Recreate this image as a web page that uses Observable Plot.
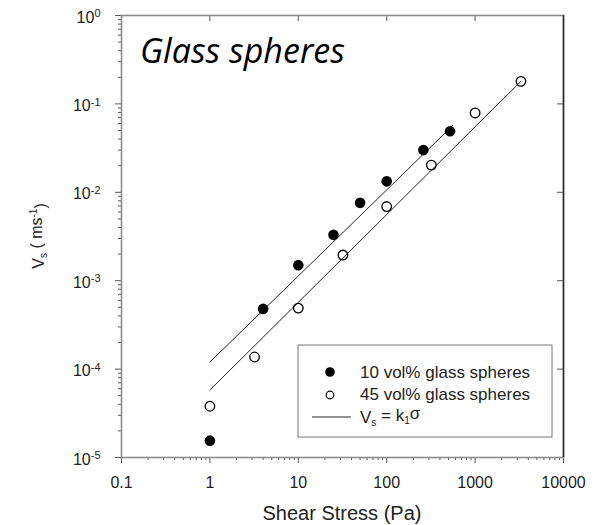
<!DOCTYPE html>
<html>
<head>
<meta charset="utf-8">
<script src="https://cdn.jsdelivr.net/npm/d3@7"></script>
<script src="https://cdn.jsdelivr.net/npm/@observablehq/plot@0.6"></script>
<style>
  body { margin: 0; background: #fff; }
  #chart { position: relative; width: 596px; height: 525px; }
</style>
</head>
<body>
<div id="chart"></div>
<script>
// Settling velocity vs applied shear stress, glass-sphere suspensions
const stress10 = [1, 4, 10, 25, 50, 100, 260, 520];
const vel10 = [1.55e-5, 4.8e-4, 1.5e-3, 3.3e-3, 7.6e-3, 1.33e-2, 0.030, 0.049];
const stress45 = [1, 3.2, 10, 32, 100, 320, 1000, 3300];
const vel45 = [3.8e-5, 1.37e-4, 4.9e-4, 1.95e-3, 6.9e-3, 0.0203, 0.079, 0.18];

// Linear fits Vs = k1·σ (end points of each fitted segment)
const fit10Stress = [1, 560];
const fit10Vel = [1.2e-4, 0.057];
const fit45Stress = [1, 3300];
const fit45Vel = [5.8e-5, 0.18];

const xTicks = [0.1, 1, 10, 100, 1000, 10000];
const xTickLabels = ["0.1", "1", "10", "100", "1000", "10000"];
const yTicks = [1e-5, 1e-4, 1e-3, 1e-2, 1e-1, 1];
const yExponents = ["-5", "-4", "-3", "-2", "-1", "0"];

const title = "Glass spheres";
const xLabel = "Shear Stress (Pa)";
const seriesLabels = ["10 vol% glass spheres", "45 vol% glass spheres"];

const toPoints = (xs, ys) => xs.map((x, i) => ({x, y: ys[i]}));
const pts10 = toPoints(stress10, vel10);
const pts45 = toPoints(stress45, vel45);
const line10 = toPoints(fit10Stress, fit10Vel);
const line45 = toPoints(fit45Stress, fit45Vel);

// minor ticks at 2..9 within each decade
const minors = (ticks) => ticks.slice(0, -1).flatMap(t => d3.range(2, 10).map(k => t * k));
const xMinor = minors(xTicks);
const yMinor = minors(yTicks);

const W = 596, H = 525, mL = 121, mR = 33, mT = 15, mB = 68;
const innerW = W - mL - mR, innerH = H - mT - mB;
const font = "'Liberation Sans', Arial, sans-serif";
const tickColor = "#555";
const textColor = "#222";

const chart = Plot.plot({
  width: W, height: H,
  marginLeft: mL, marginRight: mR, marginTop: mT, marginBottom: mB,
  style: {fontFamily: font, fontSize: "16px", color: textColor, background: "#fff", overflow: "visible"},
  x: {type: "log", domain: [0.1, 10000]},
  y: {type: "log", domain: [1e-5, 1]},
  marks: [
    // outward ticks, bottom and left
    Plot.axisX(xMinor, {anchor: "bottom", tickSize: 3, tickFormat: () => "", label: null, stroke: tickColor}),
    Plot.axisX(xTicks, {anchor: "bottom", tickSize: 6, tickPadding: 13, label: null, stroke: tickColor,
      tickFormat: d => xTickLabels[xTicks.indexOf(d)], fill: textColor, fontSize: 16}),
    Plot.axisY(yMinor, {anchor: "left", tickSize: 3, tickFormat: () => "", label: null, stroke: tickColor}),
    Plot.axisY(yTicks, {anchor: "left", tickSize: 6, tickFormat: () => "", label: null, stroke: tickColor}),
    // inward ticks, top and right
    Plot.tickX(xTicks.slice(1, -1), {x: d => d, insetBottom: innerH - 6, stroke: tickColor}),
    Plot.tickY(yTicks.slice(1, -1), {y: d => d, insetLeft: innerW - 6, stroke: tickColor}),
    Plot.frame({stroke: "#8c8c8c", strokeWidth: 1.6}),
    Plot.ruleX([10000], {stroke: "#333", strokeWidth: 1.6}),
    // power-of-ten labels on the y axis
    Plot.text(yTicks, {y: d => d, frameAnchor: "left", dx: -21, dy: 2, textAnchor: "end",
      text: (d, i) => yExponents[i], fill: textColor, fontSize: 16}),
    // fitted lines
    Plot.line(line10, {x: "x", y: "y", stroke: "#222", strokeWidth: 1}),
    Plot.line(line45, {x: "x", y: "y", stroke: "#222", strokeWidth: 1}),
    // measurements
    Plot.dot(pts10, {x: "x", y: "y", r: 5.3, fill: "#000"}),
    Plot.dot(pts45, {x: "x", y: "y", r: 4.8, fill: "none", stroke: "#000", strokeWidth: 1.3})
  ]
});

const svg = d3.select(chart);

// render "10" with a raised exponent
svg.selectAll("g[aria-label='text'] text").each(function () {
  const t = d3.select(this);
  const e = t.text();
  t.text("");
  t.append("tspan").text("10");
  t.append("tspan").attr("dy", "-0.5em").attr("font-size", 11).text(e);
});

// title
svg.append("text")
  .attr("x", 140).attr("y", 63)
  .attr("text-anchor", "start")
  .attr("font-family", "'Open Sans', sans-serif")
  .attr("font-style", "italic")
  .attr("font-size", 34)
  .attr("fill", "#000")
  .text(title);

// x label
svg.append("text")
  .attr("x", 342).attr("y", 520)
  .attr("text-anchor", "middle")
  .attr("font-family", font).attr("font-size", 20).attr("fill", textColor)
  .text(xLabel);

// y label: Vs ( ms-1 )
const yl = svg.append("text")
  .attr("transform", `translate(44,${mT + innerH / 2}) rotate(-90)`)
  .attr("text-anchor", "middle")
  .attr("font-family", font).attr("font-size", 16).attr("fill", textColor);
yl.append("tspan").text("V");
yl.append("tspan").attr("dy", "0.3em").attr("font-size", 10).text("s");
yl.append("tspan").attr("dy", "-0.3em").text(" ( ms");
yl.append("tspan").attr("dy", "-0.55em").attr("font-size", 10).text("-1");
yl.append("tspan").attr("dy", "0.55em").text(")");

// legend
const lg = svg.append("g").attr("font-family", font).attr("font-size", 17)
  .attr("fill", textColor).attr("text-anchor", "start");
lg.append("rect").attr("x", 298).attr("y", 345).attr("width", 254).attr("height", 92)
  .attr("fill", "#fff").attr("stroke", "#777").attr("stroke-width", 1);
lg.append("circle").attr("cx", 330).attr("cy", 372).attr("r", 4.8).attr("fill", "#000");
lg.append("circle").attr("cx", 330).attr("cy", 395).attr("r", 3.8)
  .attr("fill", "none").attr("stroke", "#000").attr("stroke-width", 1.2);
lg.append("line").attr("x1", 312).attr("x2", 351).attr("y1", 417).attr("y2", 417)
  .attr("stroke", "#222").attr("stroke-width", 1);
lg.append("text").attr("x", 360).attr("y", 378).text(seriesLabels[0]);
lg.append("text").attr("x", 360).attr("y", 400).text(seriesLabels[1]);
const eq = lg.append("text").attr("x", 360).attr("y", 423);
eq.append("tspan").text("V");
eq.append("tspan").attr("dy", "0.3em").attr("font-size", 10).text("s");
eq.append("tspan").attr("dy", "-0.3em").text(" = k");
eq.append("tspan").attr("dy", "0.3em").attr("font-size", 10).text("1");
eq.append("tspan").attr("dy", "-0.3em").text("σ");

document.getElementById("chart").append(chart);
</script>
</body>
</html>
